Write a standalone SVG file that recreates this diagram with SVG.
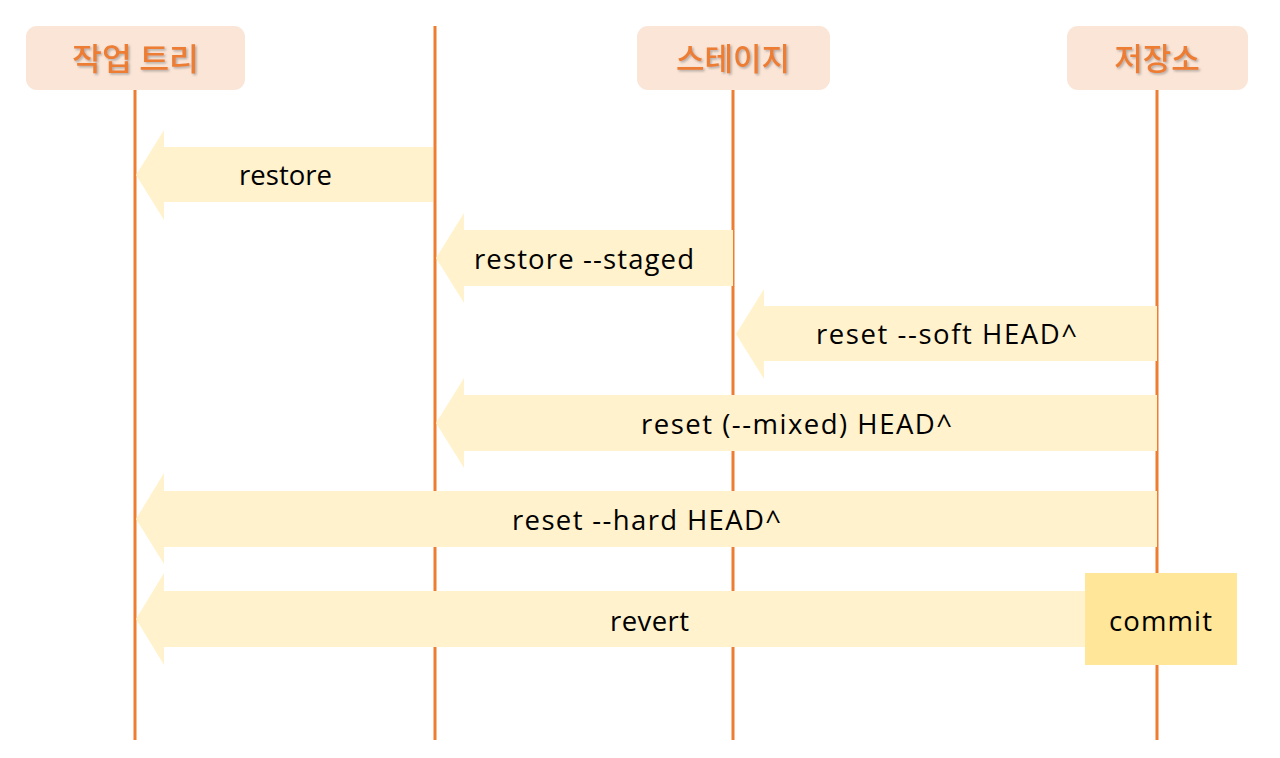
<svg xmlns="http://www.w3.org/2000/svg" width="1280" height="758" viewBox="0 0 1280 758">
<defs>
<filter id="sh" x="-10%" y="-20%" width="130%" height="150%">
<feDropShadow dx="1.5" dy="1.5" stdDeviation="0.8" flood-color="#7f7f7f" flood-opacity="0.6"/>
</filter>
</defs>
<style>
.hdr{fill:#FBE5D6}
.ht{font-family:"Noto Sans CJK KR","Noto Sans",sans-serif;font-size:31px;font-weight:500;fill:#ED7D31;text-anchor:middle}
.ln{stroke:#ED7D31;stroke-width:3;fill:none}
.ar{fill:#FFF2CC}
.lb{font-family:"Open Sans","Liberation Sans",sans-serif;font-size:27.5px;fill:#000;text-anchor:middle}
.cm{fill:#FFE699}
</style>
<rect width="1280" height="758" fill="#fff"/>
<g id="lifelines">
<line class="ln" x1="135" y1="90" x2="135" y2="740"/>
<line class="ln" x1="435" y1="26" x2="435" y2="740"/>
<line class="ln" x1="733" y1="90" x2="733" y2="740"/>
<line class="ln" x1="1157" y1="90" x2="1157" y2="740"/>
</g>
<g id="worktree"><rect class="hdr" x="26" y="26" width="219" height="64" rx="11"/><text class="ht" x="135.5" y="70" textLength="127" lengthAdjust="spacingAndGlyphs" filter="url(#sh)">작업 트리</text></g>
<g id="stage"><rect class="hdr" x="637" y="26" width="193" height="64" rx="11"/><text class="ht" x="733" y="70" filter="url(#sh)">스테이지</text></g>
<g id="repo"><rect class="hdr" x="1067" y="26" width="181" height="64" rx="11"/><text class="ht" x="1157" y="70" filter="url(#sh)">저장소</text></g>
<g id="connectors">
<g id="a-restore"><polygon class="ar" points="136,175 164,130 164,147 433,147 433,202 164,202 164,220"/><text class="lb" x="285.5" y="185" textLength="93">restore</text></g>
<g id="a-staged"><polygon class="ar" points="436,258 464,213 464,230 733,230 733,286 464,286 464,303"/><text class="lb" x="584" y="269" textLength="220">restore --staged</text></g>
<g id="a-soft"><polygon class="ar" points="736,334 764,289 764,306 1157,306 1157,361 764,361 764,379"/><text class="lb" x="946.5" y="344" textLength="261">reset --soft HEAD^</text></g>
<g id="a-mixed"><polygon class="ar" points="436,423 464,378 464,395 1157,395 1157,451 464,451 464,468"/><text class="lb" x="796.5" y="434" textLength="311">reset (--mixed) HEAD^</text></g>
<g id="a-hard"><polygon class="ar" points="136,519 164,473 164,491 1157,491 1157,547 164,547 164,564"/><text class="lb" x="646.5" y="530" textLength="269">reset --hard HEAD^</text></g>
<g id="a-revert"><polygon class="ar" points="136,619 164,573 164,591 1086,591 1086,647 164,647 164,665"/><text class="lb" x="649.5" y="631" textLength="79">revert</text></g>
</g>
<g id="commit"><rect class="cm" x="1085" y="573" width="152" height="92"/><text class="lb" x="1160.5" y="631" textLength="103">commit</text></g>
</svg>
